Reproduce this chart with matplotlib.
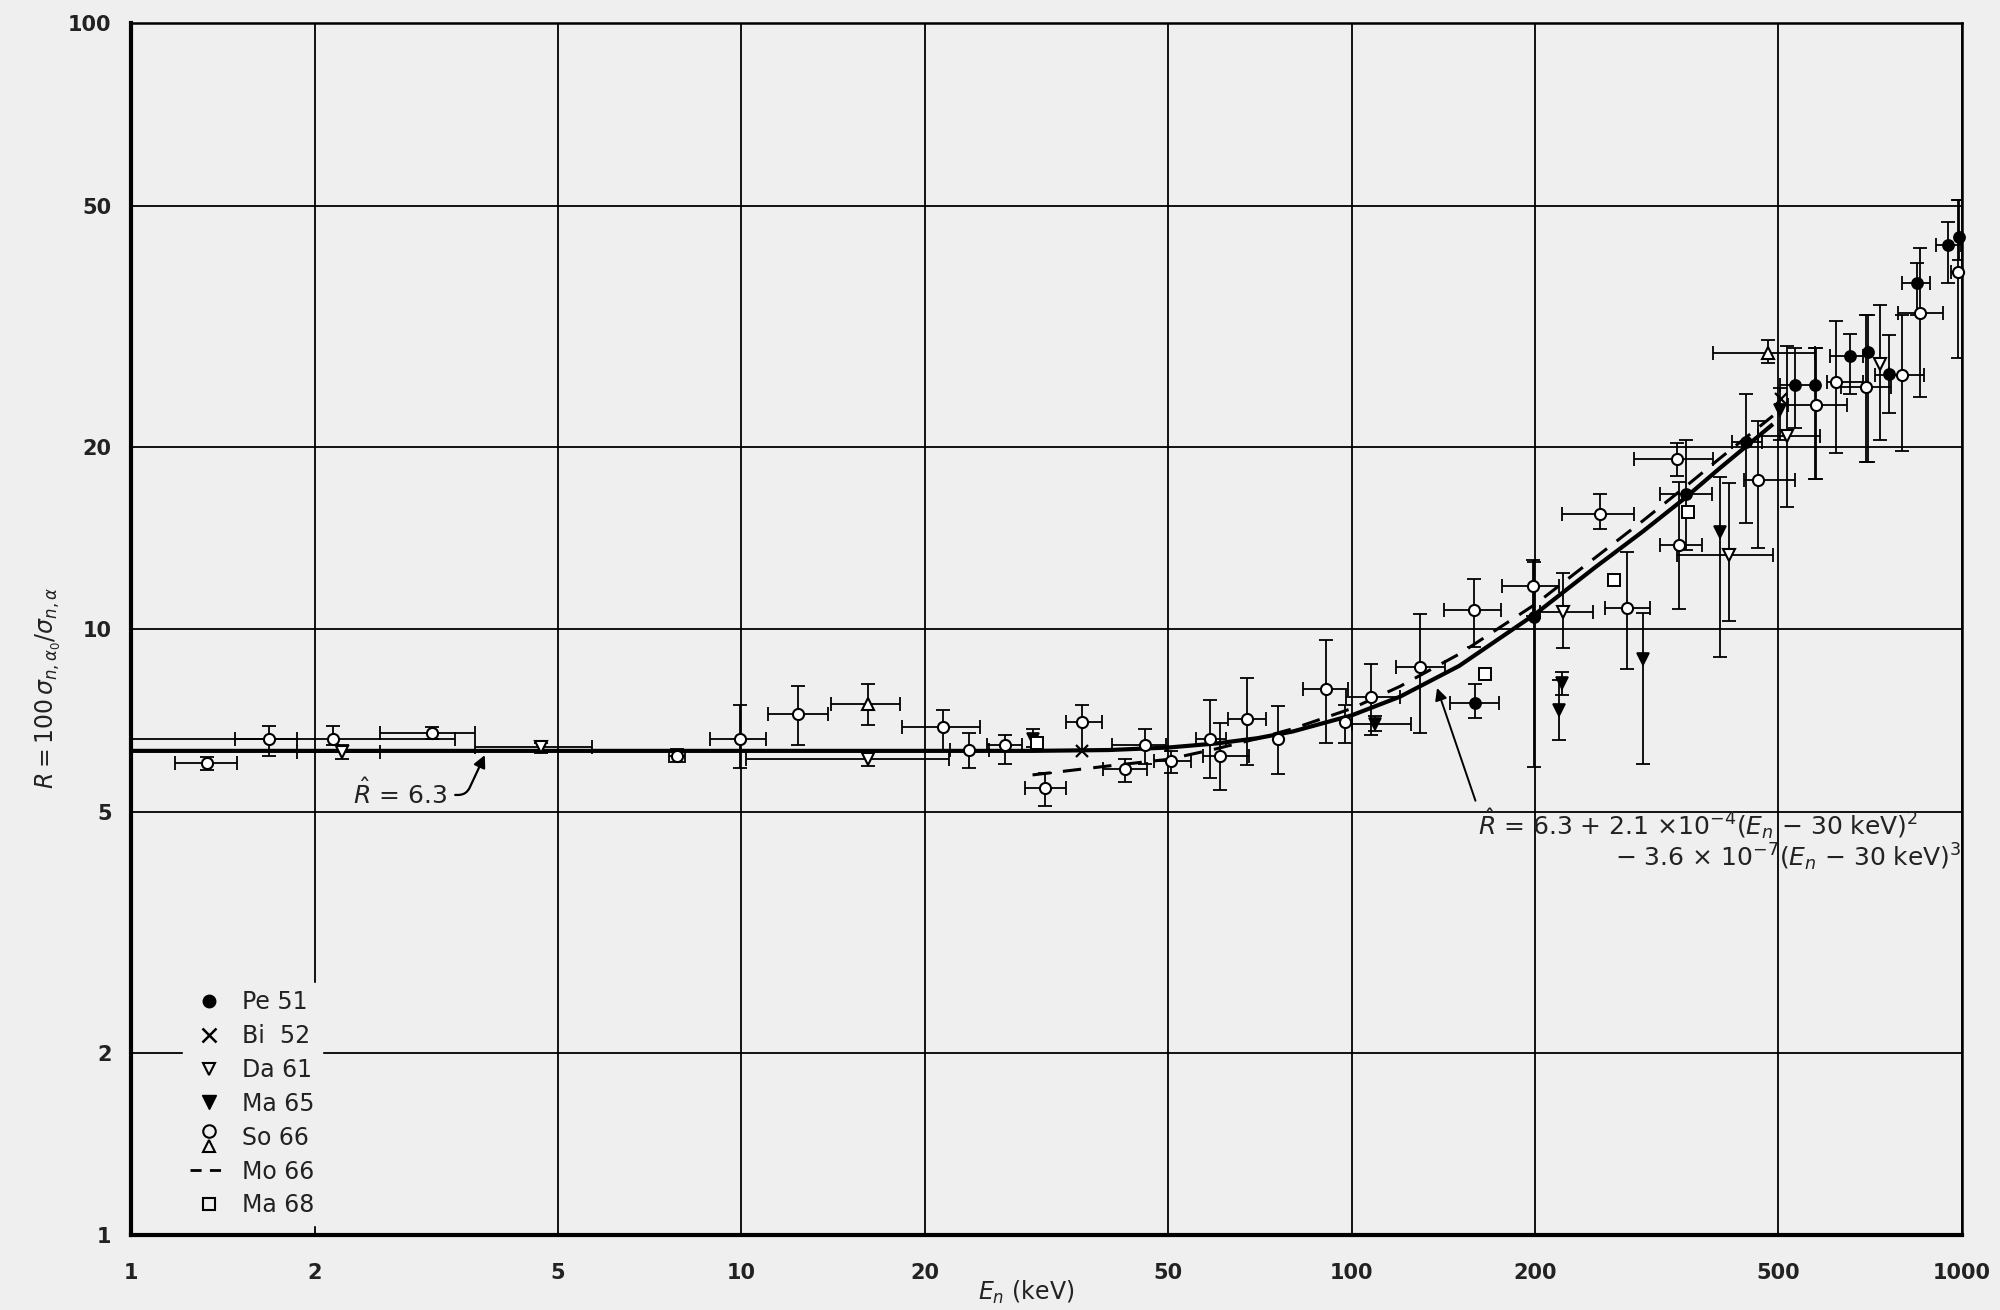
import matplotlib
matplotlib.use("Agg")
import matplotlib.pyplot as plt
from matplotlib.lines import Line2D
from matplotlib.legend_handler import HandlerBase
from matplotlib.ticker import NullLocator
import numpy as np

plt.rcParams['font.family'] = ['DejaVu Sans']
plt.rcParams['mathtext.fontset'] = 'dejavusans'

BG = '#efefef'

# ---------------- data ----------------
x_ticks = [1, 2, 5, 10, 20, 50, 100, 200, 500, 1000]
x_tick_labels = ['1', '2', '5', '10', '20', '50', '100', '200', '500', '1000']
y_ticks = [1, 2, 5, 10, 20, 50, 100]
y_tick_labels = ['1', '2', '5', '10', '20', '50', '100']

# So 66 (open circles): E, R, E_lo, E_hi, R_lo, R_hi
so_E = [1.33, 1.68, 2.14, 3.11, 7.85, 9.95, 12.4, 21.4, 23.6, 27.0, 31.4, 36.2, 42.5, 45.8, 50.6,
        58.7, 60.8, 67.4, 75.7, 90.6, 97.7, 107.7, 129.6, 158.4, 198, 255.4, 282.9, 340.7, 343.9,
        463.6, 577, 622.7, 696, 797.7, 852.7, 985]
so_R = [6.01, 6.58, 6.58, 6.74, 6.19, 6.6, 7.25, 6.9, 6.33, 6.45, 5.48, 7.03, 5.87, 6.45, 6.06,
        6.60, 6.19, 7.10, 6.60, 7.98, 7.03, 7.73, 8.67, 10.75, 11.79, 15.52, 10.86, 19.13, 13.76,
        17.6, 23.4, 25.6, 25.1, 26.25, 33.3, 38.9]
so_Elo = [1.18, 1.48, 1.0, 2.56, 7.6, 8.9, 11.06, 18.3, 22.0, 25.3, 29.2, 34.0, 39.2, 40.5, 47.5,
          55.5, 57.0, 62.7, 75.7, 83.1, 97.7, 98, 118, 141.8, 176.2, 221, 260, 290.5, 320,
          440, 519, 600, 634.6, 719, 786, 960]
so_Ehi = [1.49, 1.87, 3.4, 3.66, 8.1, 10.96, 13.87, 24.6, 25.5, 28.8, 34.0, 39.0, 46.2, 49.6, 54.5,
          62.2, 68.0, 72.3, 75.7, 98.6, 97.7, 120, 142.3, 175.5, 218.8, 290.2, 308, 391, 375,
          532, 647, 689, 766, 868, 930, 1000]
so_Rlo = [5.85, 6.17, 6.45, 6.6, 6.05, 5.9, 6.44, 6.3, 5.9, 6.0, 5.1, 6.3, 5.6, 6.0, 5.8,
          5.68, 5.43, 5.97, 5.76, 6.48, 6.5, 6.68, 6.73, 9.35, 10.5, 14.66, 8.6, 17.9, 10.8,
          13.6, 17.7, 19.5, 18.9, 19.7, 24.2, 28.0]
so_Rhi = [6.15, 6.92, 6.92, 6.9, 6.35, 7.5, 8.05, 7.35, 6.75, 6.7, 5.8, 7.5, 6.1, 6.85, 6.3,
          7.64, 7.0, 8.31, 7.47, 9.59, 7.5, 8.76, 10.6, 12.09, 13.0, 16.7, 13.4, 20.3, 17.5,
          22.1, 29.1, 32.2, 33.0, 33.0, 42.5, 51.0]

# So 66 (open triangles)
sot_E = [16.1, 481]
sot_R = [7.54, 28.6]
sot_Elo = [14.0, 391]
sot_Ehi = [18.2, 574]
sot_Rlo = [6.95, 27.5]
sot_Rhi = [8.13, 30.0]

# Da 61 (open down triangles)
da_E = [2.22, 4.69, 16.1, 222.3, 415, 515.8, 733.4]
da_R = [6.27, 6.39, 6.12, 10.68, 13.25, 20.8, 27.35]
da_Elo = [1.87, 3.66, 10.17, 203.6, 341, 463.6, 733.4]
da_Ehi = [2.56, 5.70, 21.9, 249, 490, 585, 733.4]
da_Rlo = [6.1, 6.25, 5.95, 9.3, 10.3, 15.9, 20.5]
da_Rhi = [6.45, 6.5, 6.3, 12.4, 17.4, 29.3, 34.3]

# Pe 51 (filled circles)
pe_E = [159.4, 199.3, 352.4, 442.6, 532, 574, 655, 702, 758.6, 843.8, 948, 990]
pe_R = [7.56, 10.48, 16.7, 20.4, 25.3, 25.3, 28.2, 28.7, 26.35, 37.3, 43.0, 44.3]
pe_Elo = [145, 199.3, 320, 420, 503, 574, 607, 702, 758.6, 797.7, 908, 990]
pe_Ehi = [174.4, 199.3, 390, 470, 577, 574, 689, 702, 758.6, 885, 997, 990]
pe_Rlo = [7.14, 5.93, 13.5, 14.96, 21.5, 17.7, 24.4, 18.9, 22.7, 33.0, 37.2, 40.6]
pe_Rhi = [8.13, 12.9, 20.5, 24.4, 29.1, 29.1, 30.7, 33.0, 30.6, 40.2, 47.0, 51.0]

# Ma 65 (filled down triangles)
ma65_E = [30.0, 109.3, 218.3, 221, 299.9, 401.3, 503]
ma65_R = [6.6, 6.99, 7.35, 8.14, 8.94, 14.47, 23.0]
ma65_Elo = [30.0, 100, 218.3, 221, 299.9, 401.3, 503]
ma65_Ehi = [30.0, 125, 218.3, 221, 299.9, 401.3, 503]
ma65_Rlo = [6.4, 6.8, 6.56, 7.8, 6.0, 9.0, 20.5]
ma65_Rhi = [6.85, 7.2, 8.24, 8.5, 10.62, 17.8, 25.0]

# Bi 52 (crosses)
bi_E = [36.2, 505]
bi_R = [6.3, 24.0]

# Ma 68 (open squares)
ma68_E = [30.5, 165.5, 269.4, 356]
ma68_R = [6.5, 8.43, 12.04, 15.6]

# fitted curve (solid) and Mo 66 (dashed)
fit_E = [1, 30, 40, 50, 60, 70, 80, 100, 120, 150, 200, 250, 300, 350, 400, 450, 490]
fit_R = [6.3, 6.3, 6.32, 6.38, 6.48, 6.61, 6.78, 7.21, 7.74, 8.70, 10.6, 12.63, 14.5, 16.4, 18.4, 20.3, 21.8]
mo_E = [30, 40, 50, 60, 70, 80, 100, 120, 150, 200, 250, 300, 350, 400, 450, 490]
mo_R = [5.75, 5.95, 6.1, 6.35, 6.6, 6.85, 7.4, 8.05, 9.1, 11.0, 13.1, 15.1, 17.1, 19.1, 21.0, 22.5]

legend_labels = ['Pe 51', 'Bi  52', 'Da 61', 'Ma 65', 'So 66', 'Mo 66', 'Ma 68']

# ---------------- figure ----------------
fig = plt.figure(figsize=(20, 13.1), dpi=100, facecolor=BG)
ax = fig.add_axes([0.0655, 0.057, 0.9155, 0.9253])
ax.set_facecolor(BG)
ax.set_xscale('log')
ax.set_yscale('log')
ax.set_xlim(1, 1000)
ax.set_ylim(1, 100)
ax.set_xticks(x_ticks)
ax.set_xticklabels(x_tick_labels)
ax.set_yticks(y_ticks)
ax.set_yticklabels(y_tick_labels)
ax.xaxis.set_minor_locator(NullLocator())
ax.yaxis.set_minor_locator(NullLocator())
ax.grid(True, which='major', color='black', lw=1.3, zorder=0)
ax.set_axisbelow(True)
ax.tick_params(length=0, labelsize=15, colors='#222222')
ax.tick_params(axis='x', pad=20)
ax.tick_params(axis='y', pad=14)
for lab in ax.get_xticklabels() + ax.get_yticklabels():
    lab.set_fontweight('bold')
for s in ['left', 'bottom']:
    ax.spines[s].set_linewidth(3)
for s in ['top', 'right']:
    ax.spines[s].set_linewidth(1.8)

# curves
ax.plot(fit_E, fit_R, color='black', lw=3, zorder=3, solid_capstyle='butt')
ax.plot(mo_E, mo_R, color='black', lw=2.2, ls=(0, (6, 4)), zorder=3)

eb_kw = dict(fmt='none', ecolor='black', elinewidth=1.3, capsize=5, capthick=1.3, zorder=4)


def draw(E, R, Elo, Ehi, Rlo, Rhi, **mk):
    E = np.asarray(E, float); R = np.asarray(R, float)
    xerr = [E - np.asarray(Elo, float), np.asarray(Ehi, float) - E]
    yerr = [R - np.asarray(Rlo, float), np.asarray(Rhi, float) - R]
    ax.errorbar(E, R, xerr=xerr, yerr=yerr, **eb_kw)
    ax.plot(E, R, ls='none', zorder=5, clip_on=False, **mk)


open_kw = dict(mfc='white', mec='black', mew=1.5, ms=8)
filled_kw = dict(mfc='black', mec='black', mew=1.2, ms=8)

draw(so_E, so_R, so_Elo, so_Ehi, so_Rlo, so_Rhi, marker='o', **open_kw)
draw(sot_E, sot_R, sot_Elo, sot_Ehi, sot_Rlo, sot_Rhi, marker='^', **open_kw)
draw(da_E, da_R, da_Elo, da_Ehi, da_Rlo, da_Rhi, marker='v', **open_kw)
draw(pe_E, pe_R, pe_Elo, pe_Ehi, pe_Rlo, pe_Rhi, marker='o', **filled_kw)
draw(ma65_E, ma65_R, ma65_Elo, ma65_Ehi, ma65_Rlo, ma65_Rhi, marker='v', **filled_kw)
ax.plot(bi_E, bi_R, ls='none', marker='x', mec='black', mew=1.6, ms=9, zorder=5)
ax.plot(ma68_E, ma68_R, ls='none', marker='s', mfc='white', mec='black', mew=1.4, ms=8, zorder=5)

# annotations
ax.annotate(r'$\hat{R}$ = 6.3', xy=(3.8, 6.2), xytext=(2.31, 5.36),
            ha='left', va='center', fontsize=18, color='#222222',
            arrowprops=dict(arrowstyle='-|>', color='black', lw=1.6, mutation_scale=18,
                            connectionstyle='angle,angleA=0,angleB=65,rad=8',
                            relpos=(1.0, 0.45), shrinkA=4, shrinkB=0))
ax.annotate(r'$\hat{R}$ = 6.3 + 2.1 $\times$10$^{-4}$($E_n$ $-$ 30 keV)$^{2}$',
            xy=(138, 8.0), xytext=(161, 4.78), ha='left', va='center', fontsize=18,
            color='#222222', annotation_clip=False,
            arrowprops=dict(arrowstyle='-|>', color='black', lw=1.4, mutation_scale=18,
                            relpos=(0.0, 0.95), shrinkA=2, shrinkB=0))
ax.text(270, 4.21, r'$-$ 3.6 $\times$ 10$^{-7}$($E_n$ $-$ 30 keV)$^{3}$', ha='left', va='center',
        fontsize=18, color='#222222', clip_on=False)

# axis labels
ax.set_xlabel(r'$E_n$ (keV)', fontsize=17, color='#222222')
ax.xaxis.set_label_coords(0.489, -0.036)
ax.set_ylabel(r'$R = 100\,\sigma_{n,\alpha_0}/\sigma_{n,\alpha}$', fontsize=17, color='#222222')
ax.yaxis.set_label_coords(-0.037, 0.452)


# legend
class SoHandler(HandlerBase):
    def create_artists(self, legend, orig_handle, xdescent, ydescent, width, height, fontsize, trans):
        cx = 0.5 * width - xdescent
        cy = 0.5 * height - ydescent
        a = Line2D([cx], [cy + 0.3 * height], marker='o', ls='none', mfc=BG, mec='black', mew=1.5, ms=9,
                   transform=trans)
        b = Line2D([cx], [cy - 0.6 * height], marker='^', ls='none', mfc=BG, mec='black', mew=1.5, ms=9,
                   transform=trans)
        return [a, b]


h_pe = Line2D([], [], marker='o', ls='none', mfc='black', mec='black', ms=9)
h_bi = Line2D([], [], marker='x', ls='none', mec='black', mew=1.8, ms=10)
h_da = Line2D([], [], marker='v', ls='none', mfc=BG, mec='black', mew=1.5, ms=9)
h_ma65 = Line2D([], [], marker='v', ls='none', mfc='black', mec='black', ms=10)
h_so = Line2D([], [], marker='o', ls='none')
h_mo = Line2D([], [], color='black', lw=2, ls=(0, (4, 3)))
h_ma68 = Line2D([], [], marker='s', ls='none', mfc=BG, mec='black', mew=1.5, ms=9)
leg = ax.legend([h_pe, h_bi, h_da, h_ma65, h_so, h_mo, h_ma68], legend_labels,
                handler_map={h_so: SoHandler()}, loc='upper left', bbox_to_anchor=(0.022, 0.218),
                fontsize=17, frameon=True, framealpha=1, facecolor=BG, edgecolor=BG,
                handlelength=1.6, handletextpad=0.6, labelspacing=0.42, borderpad=0.3)
for t in leg.get_texts():
    t.set_color('#222222')

fig.savefig('out.png', dpi=100, facecolor=BG)
